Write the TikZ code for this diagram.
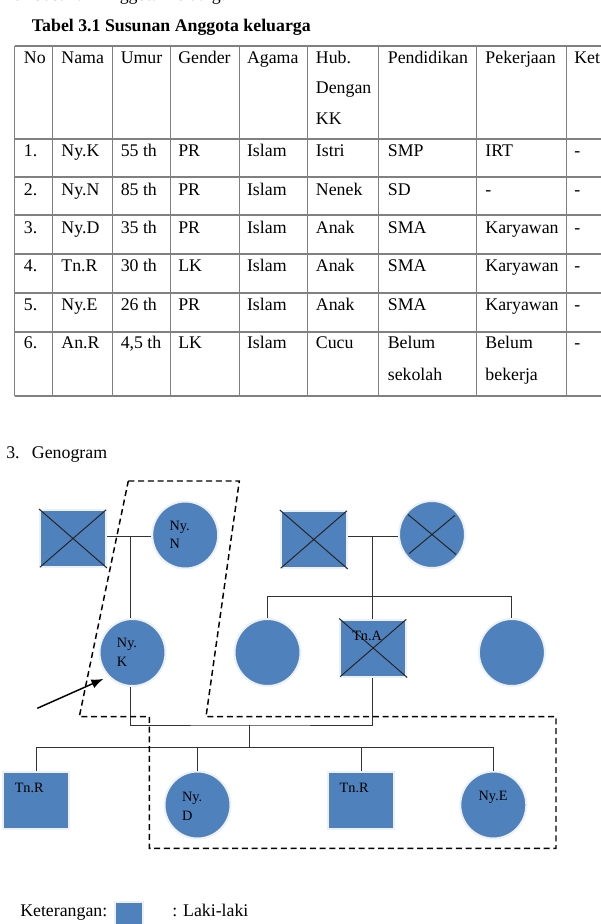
\documentclass[tikz,border=0pt]{standalone}
\usepackage{fontspec}
\setmainfont{Liberation Serif}
\usetikzlibrary{calc,arrows.meta,shapes.geometric}

\definecolor{biru}{HTML}{4F81BD}
\definecolor{halo}{HTML}{EDF1F6}

\tikzset{
  teks/.style={inner sep=0pt, anchor=base west, font=\fontsize{13.35pt}{16pt}\selectfont},
  lbl/.style={inner sep=0pt, anchor=base west, font=\fontsize{10.7pt}{13pt}\selectfont},
  tabel/.style={draw=black!50, line width=0.9pt},
  pria/.style={rectangle, fill=biru, draw=halo, line width=1.5pt, inner sep=0pt,
    minimum width=49.5pt, minimum height=42.75pt},
  wanita/.style={ellipse, fill=biru, draw=halo, line width=1.5pt, inner sep=0pt,
    minimum width=49.5pt, minimum height=50.25pt},
  garis/.style={draw=black!80, line width=0.75pt},
  silang/.style={draw=black!85, line width=0.75pt, shorten <=1pt, shorten >=1pt},
  batas/.style={draw=black, line width=1.1pt, dash pattern=on 4.5pt off 2.8pt},
}

\begin{document}
\begin{tikzpicture}[x=0.75pt,y=-0.75pt]
\useasboundingbox (0,0) rectangle (600,924);

% heading above
\node[teks] (no2) at (6,0.5) {2.};
\node[teks] (sub2) at (33,0.5) {Susunan Anggota Keluarga};
\node[teks, font=\fontsize{13.35pt}{16pt}\selectfont\bfseries] (judul) at (31.7,31.7) {Tabel 3.1 Susunan Anggota keluarga};

% table lines
\foreach \x in {14.5,52.8,112.1,170.3,239.2,307.3,378.8,476.4,566.4}
  \draw[tabel] (\x,46) -- (\x,396);
\foreach \y in {46,139,177,215,254,293,332,396}
  \draw[tabel] (14.5,\y) -- (610,\y);

% table text
\def\kolom{{23.7,61.2,120.5,178,246.8,315.7,387.6,485.2,574}}
\foreach \t [count=\i] in {No,Nama,Umur,Gender,Agama,Hub.,Pendidikan,Pekerjaan,Ket}
  {\pgfmathsetmacro\xk{\kolom[\i-1]}
   \node[teks] (h\i) at (\xk,63.3) {\t};}
\node[teks] (h6b) at (315.7,93.3) {Dengan};
\node[teks] (h6c) at (315.7,124) {KK};

\foreach \t [count=\i] in {1.,Ny.K,55 th,PR,Islam,Istri,SMP,IRT,-}
  {\pgfmathsetmacro\xk{\kolom[\i-1]}
   \node[teks] (r1c\i) at (\xk,156.7) {\t};}
\foreach \t [count=\i] in {2.,Ny.N,85 th,PR,Islam,Nenek,SD,-,-}
  {\pgfmathsetmacro\xk{\kolom[\i-1]}
   \node[teks] (r2c\i) at (\xk,195) {\t};}
\foreach \t [count=\i] in {3.,Ny.D,35 th,PR,Islam,Anak,SMA,Karyawan,-}
  {\pgfmathsetmacro\xk{\kolom[\i-1]}
   \node[teks] (r3c\i) at (\xk,233.3) {\t};}
\foreach \t [count=\i] in {4.,Tn.R,30 th,LK,Islam,Anak,SMA,Karyawan,-}
  {\pgfmathsetmacro\xk{\kolom[\i-1]}
   \node[teks] (r4c\i) at (\xk,271.7) {\t};}
\foreach \t [count=\i] in {5.,Ny.E,26 th,PR,Islam,Anak,SMA,Karyawan,-}
  {\pgfmathsetmacro\xk{\kolom[\i-1]}
   \node[teks] (r5c\i) at (\xk,310) {\t};}
\foreach \t [count=\i] in {6.,An.R,{4,5 th},LK,Islam,Cucu,Belum,Belum,-}
  {\pgfmathsetmacro\xk{\kolom[\i-1]}
   \node[teks] (r6c\i) at (\xk,348.3) {\t};}
\node[teks] (r6c7b) at (387.6,380) {sekolah};
\node[teks] (r6c8b) at (485.2,380) {bekerja};

% genogram heading
\node[teks] (no3) at (6,458) {3.};
\node[teks] (genogram) at (31.7,458) {Genogram};

% first generation
\node[pria] (kakekK) at (73,538.5) {};
\node[wanita] (nyN) at (185.2,535) {};
\node[pria] (kakekA) at (313.8,539.5) {};
\node[wanita] (nenekA) at (432,534.5) {};

% second generation
\node[wanita] (nyK) at (132.5,652.5) {};
\node[wanita] (anakA1) at (267.5,652.5) {};
\node[pria] (tnA) at (373.2,648) {};
\node[wanita] (anakA3) at (511.9,652.5) {};

% third generation
\node[pria] (tnR1) at (36,800.8) {};
\node[wanita] (nyD) at (197.5,805) {};
\node[pria] (tnR2) at (361.1,800.8) {};
\node[wanita] (nyE) at (493.3,805) {};

% deceased
\draw[silang] (kakekK.north west) -- (kakekK.south east) (kakekK.north east) -- (kakekK.south west);
\draw[silang] (kakekA.north west) -- (kakekA.south east) (kakekA.north east) -- (kakekA.south west);
\draw[silang] (tnA.north west) -- (tnA.south east) (tnA.north east) -- (tnA.south west);
\draw[silang] ($(nenekA)+(-24,-20)$) -- ($(nenekA)+(24,20)$)
  ($(nenekA)+(24,-20)$) -- ($(nenekA)+(-24,20)$);

% names
\node[lbl] (lNyN1) at (169.4,530) {Ny.};
\node[lbl] (lNyN2) at (169.4,548.3) {N};
\node[lbl] (lNyK1) at (116.7,647.3) {Ny.};
\node[lbl] (lNyK2) at (116.7,666.7) {K};
\node[lbl] (lTnA) at (352,640) {Tn.A};
\node[lbl] (lTnR1) at (14.5,792.7) {Tn.R};
\node[lbl] (lNyD1) at (181.8,801) {Ny.};
\node[lbl] (lNyD2) at (181.8,820) {D};
\node[lbl] (lTnR2) at (339.4,792.7) {Tn.R};
\node[lbl] (lNyE) at (478.4,800) {Ny.E};

% couples and children
\coordinate (m1) at (130,536);
\coordinate (m2) at (372,536);
\coordinate (sib) at (372,596.7);
\coordinate (m3) at (249.5,725);
\coordinate (m4) at (249.5,747.7);
\draw[garis] (m1 -| kakekK.east) -- (m1 -| nyN.west);
\draw[garis] (m1) -- (m1 |- nyK.north);
\draw[garis] (m2 -| kakekA.east) -- (m2 -| nenekA.west);
\draw[garis] (m2) -- (m2 |- tnA.north);
\draw[garis] (anakA1.north) |- (sib) -| (anakA3.north);
\draw[garis] (m1 |- nyK.south) |- (m3) -| (m2 |- tnA.south);
\draw[garis] (m3) -- (m4);
\draw[garis] (tnR1.north) |- (m4) -| (nyE.north);
\draw[garis] (nyD.north) -- (nyD.north |- m4);
\draw[garis] (tnR2.north) -- (tnR2.north |- m4);

% household
\draw[batas] (128.3,481) -- (239.3,481) -- (206,716.7) -- (556,716.7) -- (556,848.3)
  -- (149.3,848.3) -- (149.3,716.7) -- (79.3,716.7) -- cycle;

% client arrow
\coordinate (panah) at (37.3,708.3);
\draw[-{Latex[length=9pt,width=7pt]}, line width=1.1pt, shorten >=4pt] (panah) -- (nyK.225);

% legend
\node[teks] (ket) at (20,916.7) {Keterangan:};
\node[rectangle, fill=biru, draw=halo, line width=1.5pt, inner sep=0pt, minimum size=21pt] (lgPria) at (129,915.7) {};
\node[teks] (ketPria) at (172,916.7) {: Laki-laki};
\end{tikzpicture}
\end{document}
